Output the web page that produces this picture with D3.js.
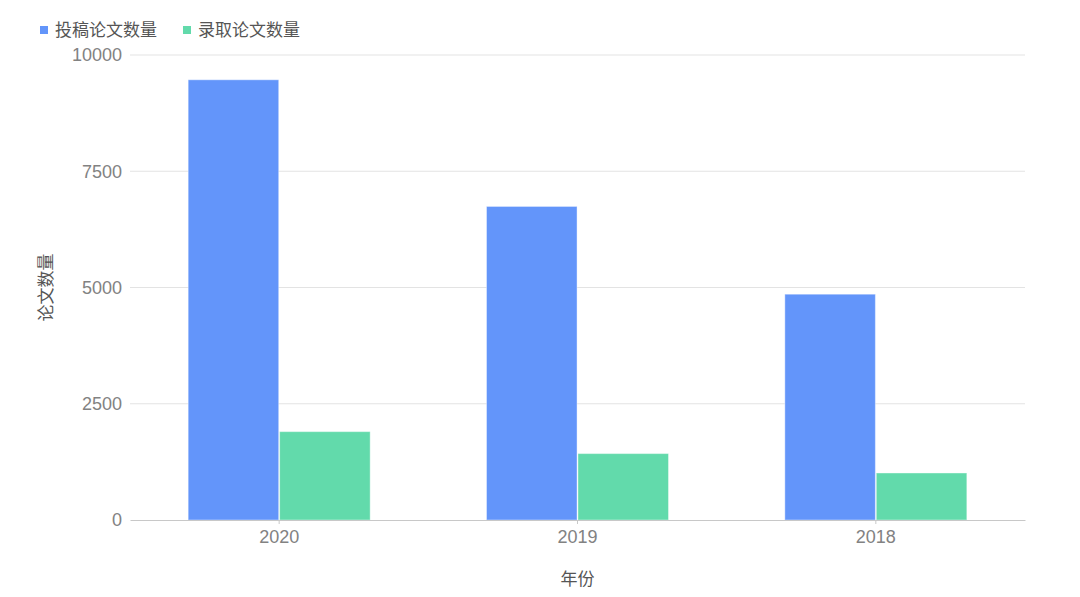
<!DOCTYPE html>
<html>
<head>
<meta charset="utf-8">
<style>
	body { margin: 0; background: #fff; }
	svg text { font-family: "Noto Sans CJK SC", "Liberation Sans", sans-serif; }
	svg text.num { font-family: "Liberation Sans", "Noto Sans CJK SC", sans-serif; }
</style>
<script src="https://d3js.org/d3.v7.min.js"></script>
</head>
<body>
<svg id="chart" width="1080" height="597"></svg>
<script>
// data
var years = ["2020", "2019", "2018"];
var seriesNames = ["投稿论文数量", "录取论文数量"];
var submitted = [9467, 6743, 4856];
var accepted = [1900, 1428, 1011];
var yTicks = [0, 2500, 5000, 7500, 10000];
var colors = ["#6395fa", "#62daab"];

var svg = d3.select("#chart");
var plotLeft = 130, plotRight = 1025, plotTop = 55, plotBottom = 520;

var x0 = d3.scaleBand().domain(years).range([plotLeft, plotRight])
	.paddingInner(0.39).paddingOuter(0.195);
var x1 = d3.scaleBand().domain(seriesNames).range([0, x0.bandwidth()]).paddingInner(0.01);
var y = d3.scaleLinear().domain([0, 10000]).range([plotBottom, plotTop]);

// grid lines
svg.append("g").selectAll("line").data(yTicks.slice(1)).join("line")
	.attr("x1", plotLeft).attr("x2", plotRight)
	.attr("y1", function(d) { return y(d); }).attr("y2", function(d) { return y(d); })
	.attr("stroke", "#e3e3e3").attr("stroke-width", 1);

// y labels
svg.append("g").selectAll("text").data(yTicks).join("text")
	.attr("class", "num")
	.attr("x", plotLeft - 8).attr("y", function(d) { return y(d); })
	.attr("dy", "0.35em").attr("text-anchor", "end")
	.attr("fill", "#828282").attr("font-size", 18)
	.text(function(d) { return d; });

// bars
var groups = svg.append("g").selectAll("g").data(years).join("g")
	.attr("transform", function(d) { return "translate(" + x0(d) + ",0)"; });

groups.selectAll("rect").data(function(d, i) {
	return [{ s: seriesNames[0], v: submitted[i], c: colors[0] },
	        { s: seriesNames[1], v: accepted[i], c: colors[1] }];
}).join("rect")
	.attr("x", function(d) { return x1(d.s); })
	.attr("width", x1.bandwidth())
	.attr("y", function(d) { return y(d.v); })
	.attr("height", function(d) { return y(0) - y(d.v); })
	.attr("fill", function(d) { return d.c; })
	.attr("stroke", "rgba(255,255,255,0.4)").attr("stroke-width", 1);

// x axis
var xAxis = svg.append("g").attr("transform", "translate(0," + plotBottom + ")")
	.call(d3.axisBottom(x0).tickSize(4).tickPadding(6).tickSizeOuter(0));
xAxis.select(".domain").attr("stroke", "#c8c8c8");
xAxis.selectAll(".tick line").attr("stroke", "#c8c8c8");
xAxis.selectAll(".tick text").attr("class", "num").attr("fill", "#828282").attr("font-size", 18);

// axis titles
svg.append("text").attr("x", (plotLeft + plotRight) / 2).attr("y", 585)
	.attr("text-anchor", "middle").attr("fill", "#555").attr("font-size", 17)
	.text("年份");
svg.append("text").attr("transform", "translate(52," + ((plotTop + plotBottom) / 2) + ") rotate(-90)")
	.attr("text-anchor", "middle").attr("fill", "#555").attr("font-size", 17)
	.text("论文数量");

// legend
var legendX = [40, 183];
var legend = svg.append("g").selectAll("g").data(seriesNames).join("g")
	.attr("transform", function(d, i) { return "translate(" + legendX[i] + ",30)"; });
legend.append("rect").attr("x", 0).attr("y", -4).attr("width", 8).attr("height", 8)
	.attr("fill", function(d, i) { return colors[i]; });
legend.append("text").attr("x", 15).attr("dy", "0.35em")
	.attr("fill", "#555").attr("font-size", 17)
	.text(function(d) { return d; });
</script>
</body>
</html>
